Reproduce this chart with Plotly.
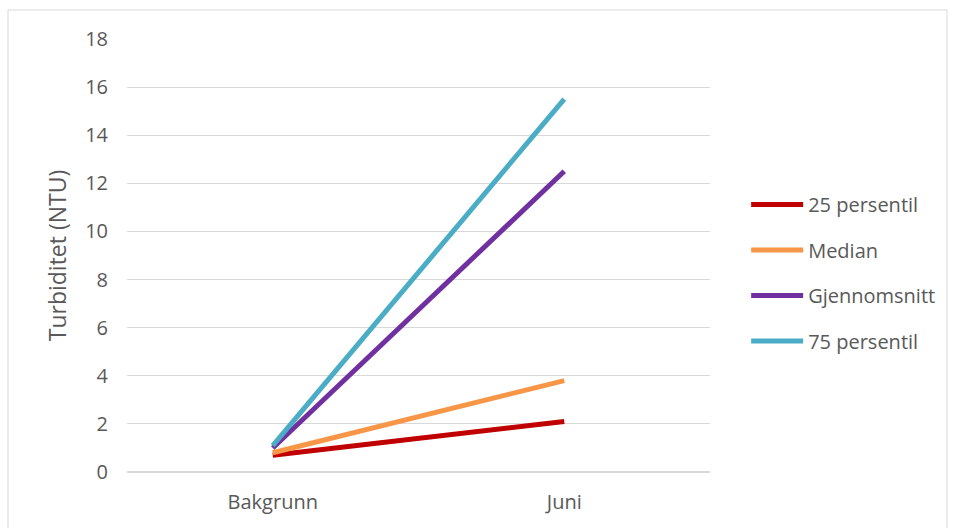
import plotly.graph_objects as go

categories = ["Bakgrunn", "Juni"]
series_names = ["25 persentil", "Median", "Gjennomsnitt", "75 persentil"]
p25 = [0.7, 2.1]
median = [0.8, 3.8]
mean = [1.0, 12.5]
p75 = [1.1, 15.5]
colors = ["#C00000", "#F79646", "#7030A0", "#4BACC6"]
y_ticks = [0, 2, 4, 6, 8, 10, 12, 14, 16, 18]

fig = go.Figure()
for i, (name, vals) in enumerate(zip(series_names, [p25, median, mean, p75])):
    fig.add_trace(go.Scatter(
        x=categories, y=vals, mode="lines", name=name,
        legendgroup=f"g{i}",
        line=dict(color=colors[i], width=5),
    ))

font_family = "Open Sans, Lato, sans-serif"
fig.update_layout(
    width=955, height=528,
    margin=dict(l=127, r=245, t=39, b=56),
    paper_bgcolor="white", plot_bgcolor="white",
    font=dict(family=font_family, color="#595959", size=20),
    showlegend=True,
    legend=dict(
        x=1.062, y=0.663, xanchor="left", yanchor="top",
        font=dict(size=20, color="#595959"),
        tracegroupgap=16.5, itemwidth=52, borderwidth=0,
        bgcolor="rgba(0,0,0,0)",
    ),
    xaxis=dict(
        type="category", showgrid=False, zeroline=False,
        showline=False, ticks="", tickfont=dict(size=20, color="#595959"),
        range=[-0.5, 1.5], ticklabelstandoff=16,
    ),
    yaxis=dict(
        range=[0, 18], tickvals=y_ticks, showgrid=True, gridcolor="#D9D9D9",
        gridwidth=1, zeroline=True, zerolinecolor="#D9D9D9", zerolinewidth=1.5,
        showline=False, ticks="", ticklabelstandoff=18,
        tickfont=dict(size=20, color="#595959"),
        title=dict(text="Turbiditet (NTU)", font=dict(size=23, color="#595959"), standoff=12),
    ),
    shapes=[dict(
        type="rect", xref="paper", yref="paper",
        x0=-119/583, x1=(947-127)/583, y0=-60/433, y1=(472-10)/433,
        line=dict(color="#D9D9D9", width=1), fillcolor="rgba(0,0,0,0)", layer="below",
    )],
)

fig.write_html("out.html")
